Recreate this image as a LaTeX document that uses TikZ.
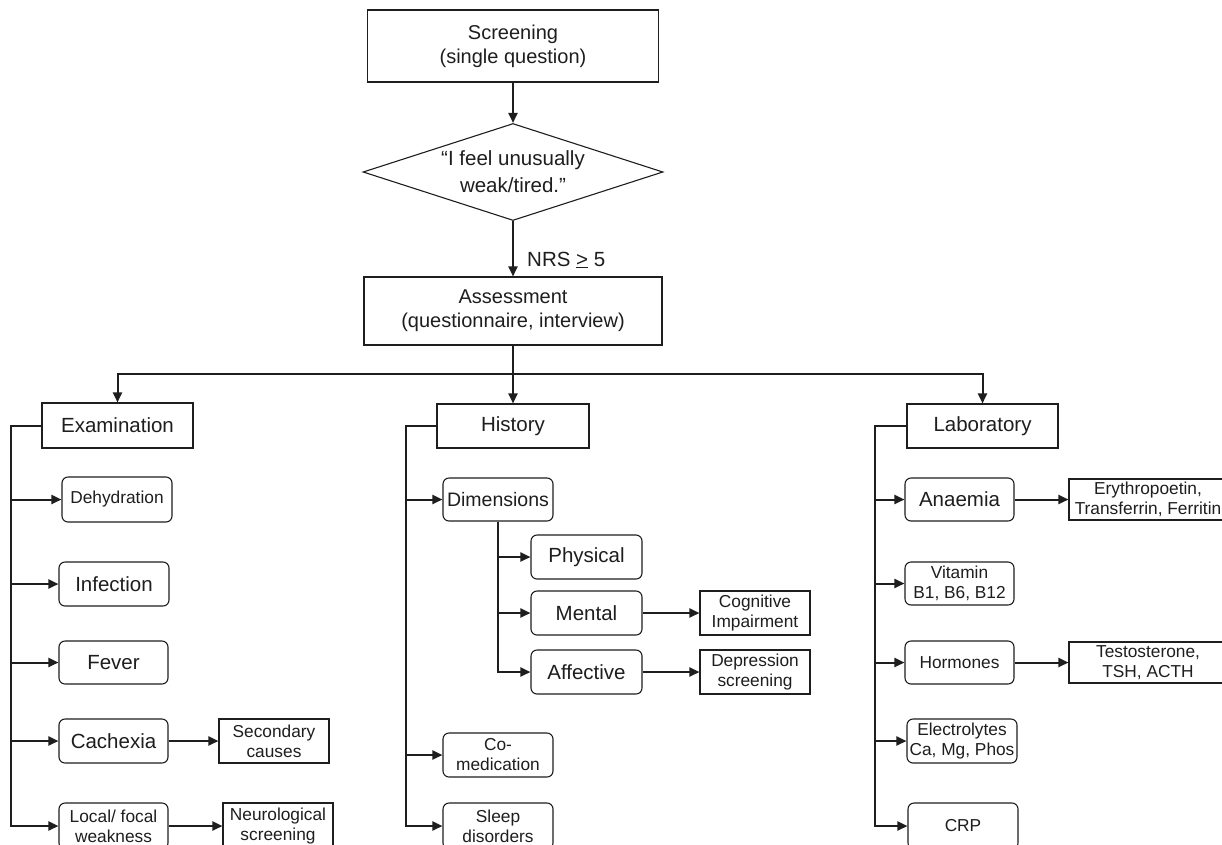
\documentclass[tikz,border=0pt]{standalone}
\usepackage{fontspec}
\setmainfont{Liberation Sans}
\usetikzlibrary{arrows.meta,shapes.geometric,calc}
\definecolor{ink}{HTML}{1E1E1E}
\begin{document}
\begin{tikzpicture}[x=1pt,y=-1pt,
  box/.style={draw=ink, line width=1.1pt, inner sep=0pt, align=center, text=ink},
  rbox/.style={box, rounded corners=6pt},
  bigf/.style={font=\fontsize{20.5}{24}\selectfont},
  smallf/.style={font=\fontsize{17.3}{20}\selectfont},
  conn/.style={draw=ink, line width=2pt},
  arr/.style={conn, -{Triangle[length=10pt,width=9pt]}}]
\fill[white] (0,0) rectangle (1222,844);
\useasboundingbox (0,0) rectangle (1222,844);
\clip (0,0) rectangle (1222,844);

% top flow
\node[box, font=\fontsize{20}{24}\selectfont, minimum width=291pt, minimum height=72pt] (scr) at (513,46) {Screening\\(single question)};
\node[box, diamond, aspect=3, font=\fontsize{20.5}{27}\selectfont, minimum width=300pt, minimum height=97pt] (dia) at (513,172) {“I feel unusually\\weak/tired.”};
\node[box, font=\fontsize{20}{24}\selectfont, minimum width=298pt, minimum height=68pt] (ass) at (513,311) {Assessment\\(questionnaire, interview)};
\node[anchor=west, text=ink, font=\fontsize{20.5}{24}\selectfont, inner sep=0pt] (nrs) at (527,260) {NRS \underline{>} 5};

\draw[arr] (scr.south) -- (dia.north);
\draw[arr] (dia.south) -- (ass.north);

% second level
\node[box, bigf, minimum width=151pt, minimum height=45pt] (exam) at (117.5,425.5) {Examination};
\node[box, bigf, minimum width=152pt, minimum height=44pt] (hist) at (513,426) {History};
\node[box, bigf, minimum width=151pt, minimum height=44pt] (lab) at (982.5,426) {Laboratory};

\coordinate (hl) at (513,374);
\draw[arr] (ass.south) -- (hist.north);
\draw[arr] (hl) -| (exam.north);
\draw[arr] (hl) -| (lab.north);

% Examination column
\coordinate (exl) at (11,426);
\node[rbox, smallf, minimum width=110pt, minimum height=45pt] (dehyd) at (117,499.5) {Dehydration};
\node[rbox, bigf, minimum width=110pt, minimum height=44pt] (infec) at (114,584) {Infection};
\node[rbox, bigf, minimum width=109pt, minimum height=43pt] (fever) at (113.5,662.5) {Fever};
\node[rbox, bigf, minimum width=109pt, minimum height=44pt] (cach) at (113.5,741) {Cachexia};
\node[box, smallf, minimum width=110pt, minimum height=44pt] (second) at (274,741) {Secondary\\causes};
\node[rbox, smallf, minimum width=109pt, minimum height=46pt] (local) at (113.5,826) {Local/ focal\\weakness};
\node[box, smallf, minimum width=110pt, minimum height=46pt] (neuro) at (278,826) {Neurological\\screening};

\draw[arr] (exam.west) -- (exam.west -| exl) |- (local.west);
\draw[arr] (exl |- dehyd.west) -- (dehyd.west);
\draw[arr] (exl |- infec.west) -- (infec.west);
\draw[arr] (exl |- fever.west) -- (fever.west);
\draw[arr] (exl |- cach.west) -- (cach.west);
\draw[arr] (cach.east) -- (second.west);
\draw[arr] (local.east) -- (neuro.west);

% History column
\coordinate (hsl) at (406,426);
\node[rbox, font=\fontsize{19.5}{24}\selectfont, minimum width=110pt, minimum height=43pt] (dim) at (498,499.5) {Dimensions};
\node[rbox, bigf, minimum width=111pt, minimum height=44pt] (phys) at (586.5,557) {Physical};
\node[rbox, bigf, minimum width=111pt, minimum height=44pt] (ment) at (586.5,613) {Mental};
\node[rbox, bigf, minimum width=111pt, minimum height=44pt] (aff) at (586.5,672) {Affective};
\node[box, smallf, minimum width=110pt, minimum height=44pt] (cog) at (755,613) {Cognitive\\Impairment};
\node[box, smallf, minimum width=110pt, minimum height=44pt] (dep) at (755,672) {Depression\\screening};
\node[rbox, smallf, minimum width=110pt, minimum height=44pt] (comed) at (498,755) {Co-\\medication};
\node[rbox, smallf, minimum width=110pt, minimum height=46pt] (sleep) at (498,826) {Sleep\\disorders};

\draw[arr] (hist.west) -- (hist.west -| hsl) |- (sleep.west);
\draw[arr] (hsl |- dim.west) -- (dim.west);
\draw[arr] (hsl |- comed.west) -- (comed.west);
\draw[arr] (dim.south) |- (aff.west);
\draw[arr] (dim.south |- phys.west) -- (phys.west);
\draw[arr] (dim.south |- ment.west) -- (ment.west);
\draw[arr] (ment.east) -- (cog.west);
\draw[arr] (aff.east) -- (dep.west);

% Laboratory column
\coordinate (lbl) at (875,426);
\node[rbox, bigf, minimum width=109pt, minimum height=43pt] (anae) at (959.5,499.5) {Anaemia};
\node[box, smallf, minimum width=158pt, minimum height=41pt] (ery) at (1148,499.5) {Erythropoetin,\\Transferrin, Ferritin};
\node[rbox, smallf, minimum width=109pt, minimum height=43pt] (vit) at (959.5,583.5) {Vitamin\\B1, B6, B12};
\node[rbox, smallf, minimum width=109pt, minimum height=43pt] (horm) at (959.5,662.5) {Hormones};
\node[box, smallf, minimum width=158pt, minimum height=41pt] (test) at (1148,662.5) {Testosterone,\\TSH, ACTH};
\node[rbox, smallf, minimum width=110pt, minimum height=44pt] (elec) at (962,741) {Electrolytes\\Ca, Mg, Phos};
\node[rbox, smallf, minimum width=110pt, minimum height=46pt] (crp) at (963,826) {CRP};

\draw[arr] (lab.west) -- (lab.west -| lbl) |- (crp.west);
\draw[arr] (lbl |- anae.west) -- (anae.west);
\draw[arr] (lbl |- vit.west) -- (vit.west);
\draw[arr] (lbl |- horm.west) -- (horm.west);
\draw[arr] (lbl |- elec.west) -- (elec.west);
\draw[arr] (anae.east) -- (ery.west);
\draw[arr] (horm.east) -- (test.west);
\end{tikzpicture}
\end{document}
